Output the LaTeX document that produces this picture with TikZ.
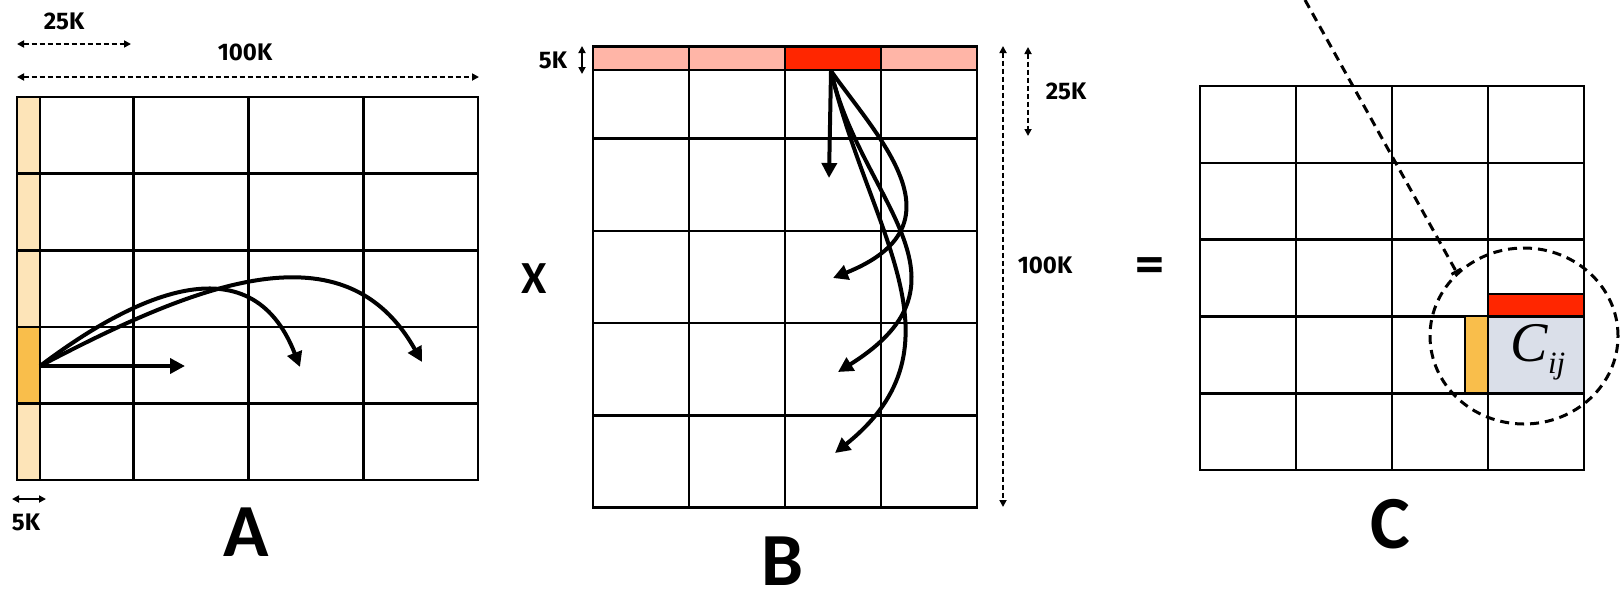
\documentclass[tikz,border=0pt]{standalone}
\usepackage{fontspec}
\usetikzlibrary{arrows.meta,shapes.geometric}
\newfontfamily\lblfont{Fira Sans}
\newfontfamily\bigfont{Carlito}
\newfontfamily\tnr{Liberation Serif}
\definecolor{lightor}{HTML}{FDE4B8}
\definecolor{darkor}{HTML}{F9BE4B}
\definecolor{lightred}{HTML}{FFB5A7}
\definecolor{darkred}{HTML}{FF2600}
\definecolor{cellblue}{HTML}{DADFE9}
\begin{document}
\begin{tikzpicture}[x=1pt,y=-1pt,
  gridline/.style={black,line width=2.6pt},
  flow/.style={line width=4pt,-{Triangle[length=15pt,width=15pt]}},
  dim/.style={line width=1.7pt,dash pattern=on 5pt off 3pt,{Triangle[length=7pt,width=7pt]}-{Triangle[length=7pt,width=7pt]}},
  dimsolid/.style={line width=1.7pt,{Triangle[length=7pt,width=7pt]}-{Triangle[length=7pt,width=7pt]}},
  lbl/.style={font=\lblfont\bfseries\fontsize{24}{24}\selectfont,inner sep=0pt},
  big/.style={font=\bigfont\bfseries\fontsize{75}{75}\selectfont,inner sep=0pt},
  op/.style={font=\bigfont\bfseries\fontsize{46}{46}\selectfont,inner sep=0pt},
  zoomline/.style={line width=3pt,dash pattern=on 9pt off 6pt}]
\useasboundingbox (0,0) rectangle (1621,590);

% ---------------- Matrix A ----------------
\fill[lightor] (17,97) rectangle (40,480);
\fill[darkor] (17,326.8) rectangle (40,403.4);
\foreach \x in {40,133.25,248.5,363.75} \draw[gridline] (\x,97) -- (\x,480);
\foreach \y in {173.6,250.2,326.8,403.4} \draw[gridline] (17,\y) -- (478,\y);
\draw[gridline] (17,97) rectangle (478,480);

\coordinate (aS) at (40,366);
\coordinate (aE0) at (185,366);
\coordinate (aE1) at (300,367);
\coordinate (aE2) at (422,362);
\draw[flow] (aS) -- (aE0);
\draw[flow] (aS) .. controls (130,298) and (250,238) .. (aE1);
\draw[flow] (aS) .. controls (200,282) and (345,225) .. (aE2);

% dimension labels of A
\coordinate (d1a) at (17,44); \coordinate (d1b) at (131,44);
\draw[dim] (d1a) -- (d1b);
\node[lbl] (l25a) at (64,21) {25K};
\coordinate (d2a) at (17,77); \coordinate (d2b) at (479,77);
\draw[dim] (d2a) -- (d2b);
\node[lbl] (l100a) at (245,52) {100K};
\coordinate (d3a) at (12,499); \coordinate (d3b) at (46,499);
\draw[dimsolid] (d3a) -- (d3b);
\node[lbl] (l5a) at (26,522) {5K};
\node[big] (labA) at (246,532) {A};

% ---------------- operator X ----------------
\node[op] (times) at (534,279) {X};

% ---------------- Matrix B ----------------
\fill[lightred] (593,46.5) rectangle (977,70);
\fill[darkred] (785,46.5) rectangle (881,70);
\foreach \x in {689,785,881} \draw[gridline] (\x,46.5) -- (\x,507.5);
\foreach \y in {70,138.7,230.9,323.1,415.3} \draw[gridline] (593,\y) -- (977,\y);
\draw[gridline] (593,46.5) rectangle (977,507.5);

\coordinate (bS) at (831,71);
\coordinate (bE0) at (829,178);
\coordinate (bE1) at (833,278);
\coordinate (bE2) at (838,372);
\coordinate (bE3) at (835,453);
\draw[flow] (bS) -- (bE0);
\draw[flow] (bS) .. controls (880,140) and (965,225) .. (bE1);
\draw[flow] (bS) .. controls (860,200) and (985,280) .. (bE2);
\draw[flow] (bS) .. controls (868,230) and (970,345) .. (bE3);

% dimension labels of B
\coordinate (e1a) at (582,46); \coordinate (e1b) at (582,74);
\draw[dimsolid] (e1a) -- (e1b);
\node[lbl] (l5b) at (553,60) {5K};
\coordinate (e2a) at (1003,46); \coordinate (e2b) at (1003,507);
\draw[dim] (e2a) -- (e2b);
\node[lbl] (l100b) at (1045,265) {100K};
\coordinate (e3a) at (1028,47); \coordinate (e3b) at (1028,136);
\draw[dim] (e3a) -- (e3b);
\node[lbl] (l25b) at (1066,91) {25K};
\node[big] (labB) at (783,561) {B};

% ---------------- operator = ----------------
\node[op,font=\bigfont\bfseries\fontsize{58}{58}\selectfont] (equals) at (1150,271) {=};

% ---------------- Matrix C ----------------
\fill[cellblue] (1488,316.4) rectangle (1584,393.2);
\foreach \x in {1296,1392,1488} \draw[gridline] (\x,86) -- (\x,470);
\foreach \y in {162.8,239.6,316.4,393.2} \draw[gridline] (1200,\y) -- (1584,\y);
\draw[gridline] (1200,86) rectangle (1584,470);
\filldraw[fill=darkred,draw=black,line width=2pt] (1488,294) rectangle (1584,316.4);
\filldraw[fill=darkor,draw=black,line width=2pt] (1465,316.4) rectangle (1488,393.2);
\draw[black,line width=2pt] (1488,316.4) rectangle (1584,393.2);
\node[inner sep=0pt] (cij) at (1538,352) {\tnr\itshape\fontsize{56}{56}\selectfont C\raisebox{-12pt}{\fontsize{31}{31}\selectfont ij}};

\node[draw,zoomline,ellipse,minimum width=188pt,minimum height=176pt,inner sep=0pt] (lens) at (1524,336) {};
\coordinate (zTop) at (1305,0);
\coordinate (zEnd) at (1457,273);
\draw[zoomline,-{Bar[width=11pt,line width=3pt]}] (zTop) -- (zEnd);

\node[big] (labC) at (1390,524) {C};
\end{tikzpicture}
\end{document}
